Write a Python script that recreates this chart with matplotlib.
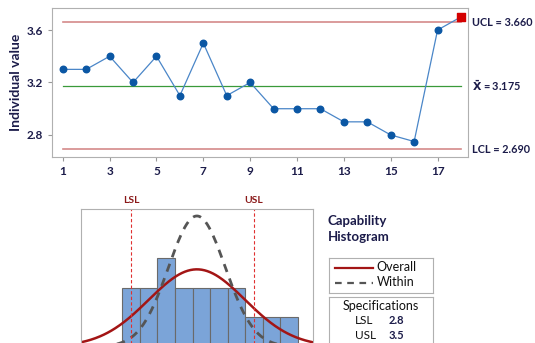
import numpy as np
import matplotlib
matplotlib.use('Agg')
import matplotlib.pyplot as plt
from matplotlib.lines import Line2D

plt.rcParams['font.family'] = ['Lato', 'DejaVu Sans']

obs = list(range(1, 19))
values = [3.3, 3.3, 3.4, 3.2, 3.4, 3.1, 3.5, 3.1, 3.2,
          3.0, 3.0, 3.0, 2.9, 2.9, 2.8, 2.75, 3.6, 3.7]
lsl = 2.8
usl = 3.5
bin_edges = [2.75, 2.85, 2.95, 3.05, 3.15, 3.25, 3.35, 3.45, 3.55, 3.65, 3.75]
x_ticks = [1, 3, 5, 7, 9, 11, 13, 15, 17]
y_ticks = [2.8, 3.2, 3.6]

navy = '#1c1c4a'
vals = np.array(values)
mean = vals.mean()
mr = np.abs(np.diff(vals)).mean()
sigma_w = mr / 1.128
sigma_o = vals.std(ddof=1)
ucl = mean + 3 * sigma_w
lcl = mean - 3 * sigma_w

fig = plt.figure(figsize=(5.35, 3.43), dpi=100)

# --- I chart ---
ax = fig.add_axes([0.0972, 0.5423, 0.7776, 0.4344])
ax.plot([1, 18], [ucl, ucl], color='#d48a8a', lw=1.2)
ax.plot([1, 18], [lcl, lcl], color='#d48a8a', lw=1.2)
ax.plot([1, 18], [mean, mean], color='#3a9a3a', lw=0.9)
ax.plot(obs, values, color='#4a86c8', lw=0.9, zorder=3)
ok = vals <= ucl
ax.scatter(np.array(obs)[ok], vals[ok], s=22, color='#0b57a4', zorder=4)
ax.scatter(np.array(obs)[~ok], vals[~ok], s=40, marker='s', color='#d40000', zorder=5)
ax.set_xlim(0.54, 18.3)
ax.set_ylim(2.632, 3.768)
ax.set_xticks(x_ticks)
ax.set_yticks(y_ticks)
ax.set_yticklabels(['%.1f' % t for t in y_ticks])
ax.tick_params(length=3, color='#999999', labelsize=8.5, labelcolor=navy)
for lab in ax.get_xticklabels() + ax.get_yticklabels():
    lab.set_fontweight('bold')
for s in ax.spines.values():
    s.set_color('#b0b0b0')
ax.set_ylabel('Individual value', fontsize=10, fontweight='bold', color=navy, labelpad=3)
tx = 18.45
ax.text(tx, ucl, 'UCL = %.3f' % ucl, fontsize=7.8, fontweight='bold', color=navy,
        va='center', ha='left', clip_on=False)
ax.text(tx, mean, r'$\mathbf{\bar{X}}$' + ' = %.3f' % mean, fontsize=7.8, fontweight='bold',
        color=navy, va='center', ha='left', clip_on=False)
ax.text(tx, lcl, 'LCL = %.3f' % lcl, fontsize=7.8, fontweight='bold', color=navy,
        va='center', ha='left', clip_on=False)

# --- Capability histogram ---
ah = fig.add_axes([0.1514, -0.0102, 0.4336, 0.4009])
ah.hist(values, bins=bin_edges, color='#7ba4d8', edgecolor='#6a6a6a', lw=0.8)
xs = np.linspace(2.4, 4.0, 300)
scale = len(values) * 0.1
pdf_o = scale * np.exp(-0.5 * ((xs - mean) / sigma_o) ** 2) / (sigma_o * np.sqrt(2 * np.pi))
pdf_w = scale * np.exp(-0.5 * ((xs - mean) / sigma_w) ** 2) / (sigma_w * np.sqrt(2 * np.pi))
ah.plot(xs, pdf_o, color='#a31515', lw=1.8)
ah.plot(xs, pdf_w, color='#555555', lw=2.0, ls=(0, (3, 2.5)))
ah.axvline(lsl, color='#e03030', lw=0.8, ls=(0, (3, 2)))
ah.axvline(usl, color='#e03030', lw=0.8, ls=(0, (3, 2)))
ah.set_xlim(2.516, 3.835)
ah.set_ylim(0, 4.68)
ah.set_xticks([])
ah.set_yticks([])
for s in ah.spines.values():
    s.set_color('#b0b0b0')
ah.text(lsl, 4.82, 'LSL', color='#8b1a1a', fontsize=7.5, fontweight='bold', ha='center', va='bottom')
ah.text(usl, 4.82, 'USL', color='#8b1a1a', fontsize=7.5, fontweight='bold', ha='center', va='bottom')

fig.text(0.613, 0.372, 'Capability\nHistogram', fontsize=9.5, fontweight='bold', color=navy,
         va='top', ha='left', linespacing=1.35)

# legend box
lg = fig.add_axes([0.615, 0.146, 0.194, 0.102])
lg.set_xticks([])
lg.set_yticks([])
lg.set_xlim(0, 1)
lg.set_ylim(0, 1)
for s in lg.spines.values():
    s.set_color('#b0b0b0')
lg.add_line(Line2D([0.06, 0.42], [0.70, 0.70], color='#a31515', lw=1.6))
lg.add_line(Line2D([0.06, 0.42], [0.28, 0.28], color='#555555', lw=1.6, ls=(0, (3, 2.5))))
lg.text(0.46, 0.74, 'Overall', fontsize=9, va='center', color='#111111')
lg.text(0.46, 0.30, 'Within', fontsize=9, va='center', color='#111111')

# specifications box
sp = fig.add_axes([0.615, -0.05, 0.194, 0.184])
sp.set_xticks([])
sp.set_yticks([])
sp.set_xlim(0, 1)
sp.set_ylim(0, 1)
for s in sp.spines.values():
    s.set_color('#b0b0b0')
sp.text(0.5, 0.86, 'Specifications', fontsize=9, ha='center', va='center', color='#111111')
sp.text(0.25, 0.625, 'LSL', fontsize=8.5, ha='left', va='center', color='#111111')
sp.text(0.57, 0.625, '%.1f' % lsl, fontsize=8, ha='left', va='center', color=navy, fontweight='bold')
sp.text(0.25, 0.39, 'USL', fontsize=8.5, ha='left', va='center', color='#111111')
sp.text(0.57, 0.39, '%.1f' % usl, fontsize=8, ha='left', va='center', color=navy, fontweight='bold')

fig.savefig('out.png', dpi=100)
